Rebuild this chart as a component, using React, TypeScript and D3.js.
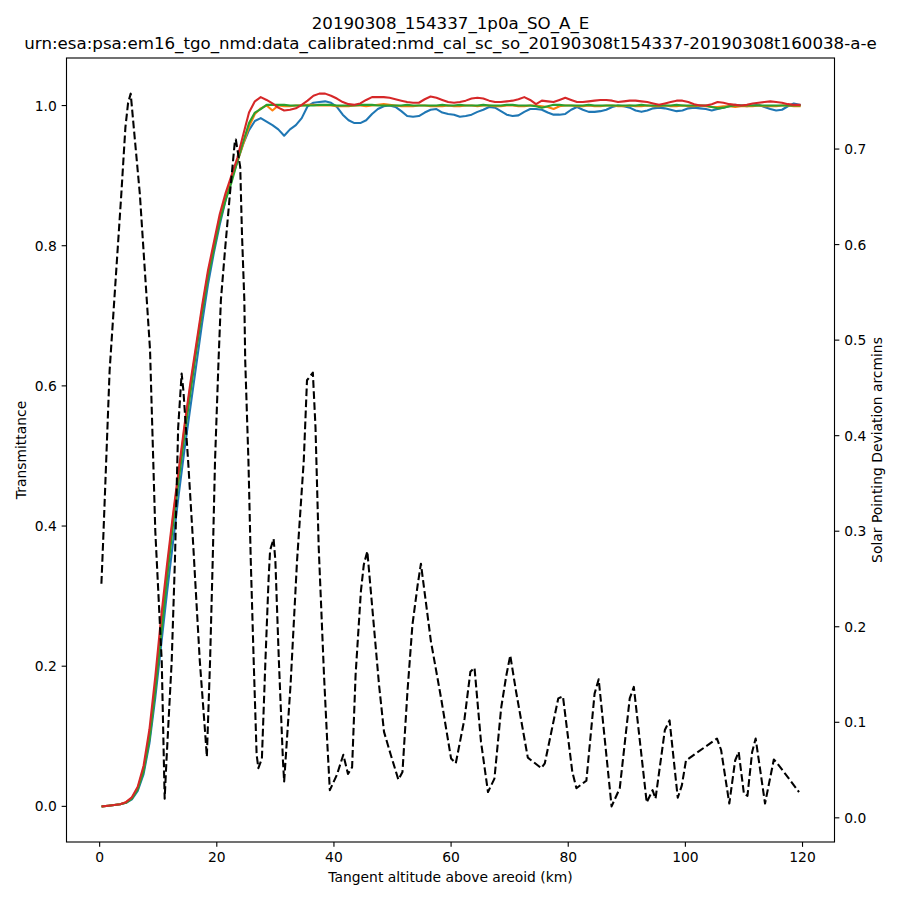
import * as d3 from "d3";

// transmittance samples (km)
const ALT = [
	0.5, 1.5, 2.5, 3.5, 4.5, 5.5, 6.5, 7.5, 8.5, 9.5,
	10.5, 11.5, 12.5, 13.5, 14.5, 15.5, 16.5, 17.5, 18.5, 19.5,
	20.5, 21.5, 22.5, 23.5, 24.5, 25.5, 26.5, 27.5, 28.5, 29.5,
	30.5, 31.5, 32.5, 33.5, 34.5, 35.5, 36.5, 37.5, 38.5, 39.5,
	40.5, 41.5, 42.5, 43.5, 44.5, 45.5, 46.5, 47.5, 48.5, 49.5,
	50.5, 51.5, 52.5, 53.5, 54.5, 55.5, 56.5, 57.5, 58.5, 59.5,
	60.5, 61.5, 62.5, 63.5, 64.5, 65.5, 66.5, 67.5, 68.5, 69.5,
	70.5, 71.5, 72.5, 73.5, 74.5, 75.5, 76.5, 77.5, 78.5, 79.5,
	80.5, 81.5, 82.5, 83.5, 84.5, 85.5, 86.5, 87.5, 88.5, 89.5,
	90.5, 91.5, 92.5, 93.5, 94.5, 95.5, 96.5, 97.5, 98.5, 99.5,
	100.5, 101.5, 102.5, 103.5, 104.5, 105.5, 106.5, 107.5, 108.5, 109.5,
	110.5, 111.5, 112.5, 113.5, 114.5, 115.5, 116.5, 117.5, 118.5, 119.5,
];

const T_BLUE = [
	0.0, 0.001, 0.002, 0.003, 0.005, 0.01, 0.022, 0.046, 0.09, 0.155,
	0.23, 0.305, 0.375, 0.445, 0.51, 0.57, 0.63, 0.69, 0.745, 0.79,
	0.83, 0.865, 0.895, 0.92, 0.945, 0.965, 0.978, 0.982, 0.977, 0.972,
	0.966, 0.957, 0.966, 0.972, 0.982, 0.999, 1.004, 1.005, 1.006, 1.004,
	0.998, 0.987, 0.979, 0.975, 0.975, 0.979, 0.988, 0.995, 0.999, 1.0,
	0.998, 0.992, 0.985, 0.984, 0.985, 0.99, 0.994, 0.995, 0.99, 0.988,
	0.987, 0.984, 0.985, 0.987, 0.991, 0.994, 0.998, 0.997, 0.992, 0.987,
	0.985, 0.986, 0.991, 0.995, 0.995, 0.994, 0.99, 0.987, 0.987, 0.988,
	0.994, 0.998, 0.994, 0.991, 0.991, 0.992, 0.994, 0.998, 1.0, 0.999,
	0.997, 0.993, 0.991, 0.993, 0.996, 0.997, 0.996, 0.994, 0.992, 0.993,
	0.996, 0.997, 0.996, 0.995, 0.993, 0.995, 0.997, 0.999, 1.001, 1.0,
	0.999, 1.0, 1.001, 0.998, 0.995, 0.993, 0.994, 0.999, 1.003, 1.001,
];

const T_ORANGE = [
	0.0, 0.001, 0.002, 0.003, 0.006, 0.012, 0.026, 0.054, 0.1, 0.17,
	0.255, 0.335, 0.41, 0.475, 0.54, 0.6, 0.655, 0.71, 0.76, 0.8,
	0.84, 0.87, 0.895, 0.92, 0.945, 0.97, 0.988, 0.996, 1.0, 0.993,
	1.0, 0.999, 0.999, 1.0, 1.0, 1.001, 1.001, 1.0, 1.0, 1.0,
	0.999, 0.999, 0.999, 1.0, 1.0, 0.999, 1.0, 1.001, 1.002, 1.001,
	1.0, 0.999, 0.999, 0.999, 1.0, 1.0, 0.999, 0.999, 0.999, 1.0,
	0.999, 0.999, 1.0, 1.0, 0.999, 1.0, 1.0, 0.999, 0.999, 1.0,
	1.0, 0.999, 0.999, 1.0, 1.0, 0.999, 0.998, 0.995, 0.999, 1.0,
	1.0, 0.999, 0.999, 1.0, 0.999, 0.999, 1.0, 1.0, 0.999, 0.999,
	1.0, 0.999, 0.999, 1.0, 0.999, 0.999, 1.0, 0.999, 0.999, 1.0,
	0.999, 0.999, 1.0, 0.999, 0.998, 0.998, 0.999, 0.999, 0.998, 0.999,
	0.999, 0.999, 1.0, 0.999, 0.999, 0.999, 1.0, 1.0, 0.999, 0.999,
];

const T_GREEN = [
	0.0, 0.001, 0.002, 0.003, 0.005, 0.011, 0.024, 0.05, 0.095, 0.165,
	0.245, 0.325, 0.4, 0.465, 0.53, 0.59, 0.65, 0.705, 0.755, 0.795,
	0.835, 0.865, 0.89, 0.92, 0.948, 0.975, 0.99, 0.995, 1.001, 1.001,
	1.001, 1.001, 1.0, 1.0, 1.0, 1.0, 1.0, 1.001, 1.001, 1.001,
	1.0, 1.0, 1.0, 1.0, 1.001, 1.001, 1.001, 1.0, 1.0, 1.0,
	1.0, 1.0, 1.001, 1.0, 1.0, 1.0, 1.0, 1.0, 1.001, 1.0,
	1.0, 1.001, 1.0, 1.0, 1.0, 1.001, 1.0, 1.0, 1.0, 1.001,
	1.001, 1.0, 1.0, 1.0, 0.999, 0.997, 0.999, 1.001, 1.001, 1.0,
	1.0, 1.0, 1.0, 1.001, 1.0, 1.0, 1.0, 1.0, 1.0, 1.0,
	1.0, 1.0, 1.001, 1.0, 1.0, 1.0, 1.0, 1.0, 1.001, 1.0,
	1.0, 1.0, 1.0, 1.0, 0.998, 0.996, 0.997, 0.999, 1.0, 1.0,
	1.0, 1.0, 1.0, 1.0, 1.0, 1.0, 1.0, 1.0, 1.0, 1.0,
];

const T_RED = [
	0.0, 0.001, 0.002, 0.003, 0.006, 0.013, 0.028, 0.058, 0.11, 0.185,
	0.27, 0.345, 0.415, 0.48, 0.545, 0.605, 0.66, 0.715, 0.765, 0.805,
	0.845, 0.875, 0.9, 0.925, 0.958, 0.99, 1.006, 1.012, 1.008, 1.003,
	0.997, 0.993, 0.994, 0.996, 1.001, 1.007, 1.014, 1.017, 1.017, 1.014,
	1.01, 1.005, 1.002, 1.001, 1.003, 1.008, 1.012, 1.012, 1.012, 1.011,
	1.009, 1.007, 1.005, 1.004, 1.004, 1.009, 1.013, 1.011, 1.008, 1.005,
	1.004, 1.005, 1.007, 1.01, 1.011, 1.01, 1.007, 1.005, 1.005, 1.006,
	1.007, 1.009, 1.012, 1.008, 1.002, 1.007, 1.006, 1.005, 1.008, 1.011,
	1.008, 1.005, 1.005, 1.006, 1.007, 1.008, 1.008, 1.007, 1.005, 1.006,
	1.007, 1.007, 1.006, 1.005, 1.003, 1.001, 1.003, 1.005, 1.007, 1.007,
	1.005, 1.002, 1.0, 1.0, 1.002, 1.005, 1.004, 1.002, 1.001, 1.0,
	1.001, 1.003, 1.004, 1.005, 1.006, 1.005, 1.004, 1.002, 1.001, 1.001,
];

const SERIES = [T_BLUE, T_ORANGE, T_GREEN, T_RED];
const COLORS = ["#1f77b4", "#ff7f0e", "#2ca02c", "#d62728"];

// solar pointing deviation (arcmins)
const DEV_ALT = [
	0.3, 0.6, 1.7, 3.7, 4.4, 4.85, 5.3, 6.86, 8.6, 9.5, 10.6, 11.1, 11.4, 12.3,
	12.85, 13.4, 14.0, 14.3, 15.1, 16.0, 16.3, 17.1, 18.0, 18.3, 18.85, 19.3,
	19.7, 20.3, 20.7, 21.4, 22.3, 23.1, 23.25, 24.0, 24.3, 24.7, 24.85, 25.4,
	25.8, 26.3, 26.8, 27.1, 27.7, 28.3, 28.85, 29.1, 29.7, 30.0, 30.6, 31.3,
	31.5, 32.6, 33.7, 34.85, 35.4, 36.4, 36.85, 37.4, 38.3, 38.85, 39.3, 40.5,
	41.6, 42.4, 43.1, 43.7, 44.6, 45.1, 45.7, 46.8, 47.7, 48.55, 49.7, 51.0,
	51.7, 52.55, 53.4, 54.3, 54.85, 56.55, 58.3, 60.0, 60.8, 62.3, 63.3, 64.0,
	65.1, 66.3, 67.4, 68.55, 69.4, 70.1, 71.1, 73.1, 75.4, 76.0, 78.3, 79.1,
	80.7, 81.4, 83.1, 84.5, 85.2, 87.4, 88.8, 90.5, 91.2, 93.4, 94.4, 94.9,
	96.5, 97.3, 98.7, 99.4, 100.1, 105.4, 106.1, 107.5, 108.5, 109.1, 110.0,
	110.6, 111.4, 112.0, 113.6, 115.1, 115.7, 119.4,
];

const DEV = [
	0.245, 0.29, 0.468, 0.653, 0.723, 0.748, 0.758, 0.653, 0.49, 0.3, 0.164, 0.02, 0.059, 0.164,
	0.269, 0.408, 0.465, 0.447, 0.374, 0.283, 0.25, 0.164, 0.09, 0.064, 0.164, 0.269,
	0.374, 0.479, 0.542, 0.594, 0.657, 0.709, 0.71, 0.681, 0.611, 0.542, 0.479, 0.374,
	0.269, 0.164, 0.066, 0.052, 0.062, 0.164, 0.251, 0.28, 0.292, 0.269, 0.164, 0.059,
	0.038, 0.14, 0.269, 0.374, 0.458, 0.466, 0.409, 0.283, 0.15, 0.08, 0.029, 0.045,
	0.066, 0.046, 0.053, 0.15, 0.237, 0.265, 0.279, 0.202, 0.139, 0.09, 0.066, 0.04,
	0.048, 0.132, 0.202, 0.244, 0.266, 0.185, 0.125, 0.062, 0.057, 0.104, 0.153, 0.157,
	0.08, 0.027, 0.041, 0.115, 0.148, 0.17, 0.132, 0.063, 0.052, 0.057, 0.125, 0.127,
	0.048, 0.031, 0.039, 0.13, 0.145, 0.012, 0.031, 0.125, 0.137, 0.016, 0.029, 0.02,
	0.092, 0.102, 0.021, 0.034, 0.06, 0.083, 0.071, 0.015, 0.06, 0.069, 0.025,
	0.023, 0.069, 0.083, 0.015, 0.061, 0.057, 0.027,
];

const X_TICKS = [0, 20, 40, 60, 80, 100, 120];
const T_TICKS = [0.0, 0.2, 0.4, 0.6, 0.8, 1.0];
const DEV_TICKS = [0.0, 0.1, 0.2, 0.3, 0.4, 0.5, 0.6, 0.7];

const TITLE_1 = "20190308_154337_1p0a_SO_A_E";
const TITLE_2 = "urn:esa:psa:em16_tgo_nmd:data_calibrated:nmd_cal_sc_so_20190308t154337-20190308t160038-a-e";
const X_LABEL = "Tangent altitude above areoid (km)";
const Y_LABEL = "Transmittance";
const Y2_LABEL = "Solar Pointing Deviation arcmins";

const W = 900, H = 900;
const L = 66.5, R = 834.5, T = 58, B = 842;
const FONT = "DejaVu Sans, sans-serif";
const LW = 2.08; // 1.5pt at 100 dpi
const TICK = 4.86;

function padded([lo, hi]) {
	const m = (hi - lo) * 0.05;
	return [lo - m, hi + m];
}

export default function App() {
	const x = d3.scaleLinear()
		.domain(padded(d3.extent([...ALT, ...DEV_ALT])))
		.range([L, R]);
	const y = d3.scaleLinear()
		.domain(padded(d3.extent(SERIES.flat())))
		.range([B, T]);
	const y2 = d3.scaleLinear()
		.domain(padded(d3.extent(DEV)))
		.range([B, T]);

	const tLine = d3.line().x((d) => x(d[0])).y((d) => y(d[1]));
	const devLine = d3.line().x((d) => x(d[0])).y((d) => y2(d[1]));

	return (
		<svg width={W} height={H} style={{ position: "absolute", left: 0, top: 0, background: "#fff" }} fontFamily={FONT}>
			<rect width={W} height={H} fill="#fff" />
			<text x={(L + R) / 2} y={29} fontSize={16.67} textAnchor="middle">{TITLE_1}</text>
			<text x={(L + R) / 2} y={49} fontSize={16.67} textAnchor="middle">{TITLE_2}</text>

			<g fill="none" strokeWidth={LW} strokeLinejoin="round" strokeLinecap="square">
				{SERIES.map((s, i) => (
					<path key={i} d={tLine(ALT.map((a, j) => [a, s[j]]))} stroke={COLORS[i]} />
				))}
			</g>
			<path
				d={devLine(DEV_ALT.map((a, j) => [a, DEV[j]]))}
				fill="none"
				stroke="#000"
				strokeWidth={LW}
				strokeDasharray="7.7 3.33"
				strokeLinejoin="round"
			/>

			<rect x={L} y={T} width={R - L} height={B - T} fill="none" stroke="#000" strokeWidth={1.11} />

			{X_TICKS.map((t) => (
				<g key={t} transform={`translate(${x(t)},${B})`}>
					<line y2={TICK} stroke="#000" strokeWidth={1.11} />
					<text y={TICK * 2} dy="0.76em" fontSize={13.89} textAnchor="middle">{t}</text>
				</g>
			))}
			{T_TICKS.map((t) => (
				<g key={t} transform={`translate(${L},${y(t)})`}>
					<line x2={-TICK} stroke="#000" strokeWidth={1.11} />
					<text x={-TICK * 2} dy="0.36em" fontSize={13.89} textAnchor="end">{t.toFixed(1)}</text>
				</g>
			))}
			{DEV_TICKS.map((t) => (
				<g key={t} transform={`translate(${R},${y2(t)})`}>
					<line x2={TICK} stroke="#000" strokeWidth={1.11} />
					<text x={TICK * 2} dy="0.36em" fontSize={13.89} textAnchor="start">{t.toFixed(1)}</text>
				</g>
			))}

			<text x={(L + R) / 2} y={882} fontSize={13.89} textAnchor="middle">{X_LABEL}</text>
			<text transform={`translate(26,${(T + B) / 2}) rotate(-90)`} fontSize={13.89} textAnchor="middle">{Y_LABEL}</text>
			<text transform={`translate(882,${(T + B) / 2}) rotate(-90)`} fontSize={13.89} textAnchor="middle">{Y2_LABEL}</text>
		</svg>
	);
}
